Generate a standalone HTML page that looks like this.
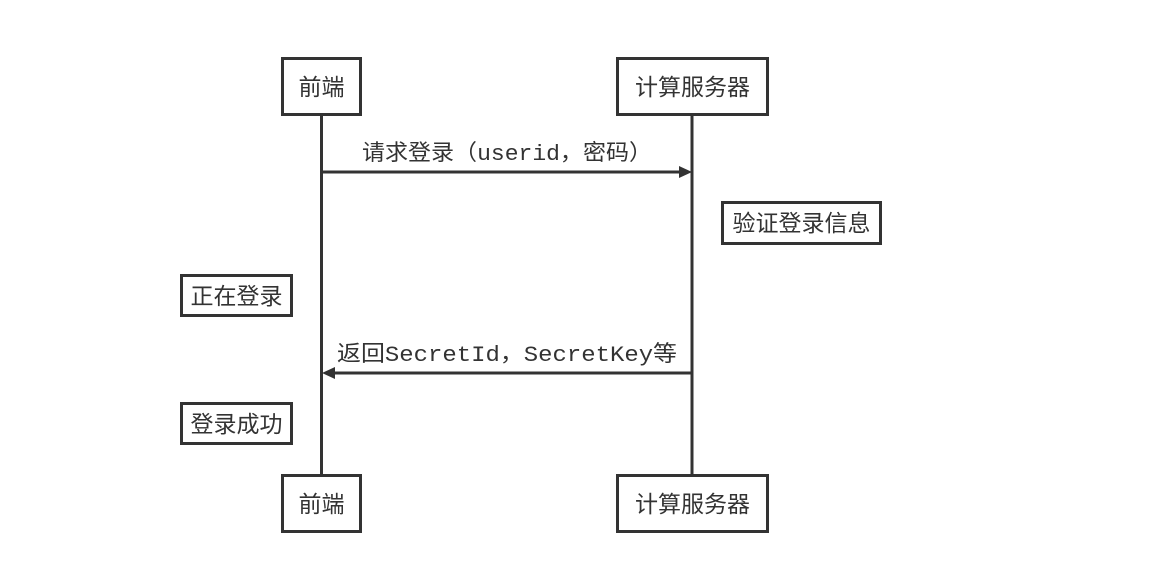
<!DOCTYPE html>
<html><head><meta charset="utf-8"><style>
html,body{margin:0;padding:0;background:#fff;}
svg{display:block;}
text{font-family:"Liberation Mono","Noto Sans CJK SC",monospace;fill:#333;}
.c{font-family:"Liberation Sans","Noto Sans CJK SC",sans-serif;font-size:23px;}
</style></head><body>
<svg width="1159" height="571" viewBox="0 0 1159 571" xmlns="http://www.w3.org/2000/svg">
<g stroke="#333" stroke-width="3" fill="none">
<line x1="321.5" y1="115" x2="321.5" y2="475"/>
<line x1="692" y1="115" x2="692" y2="475"/>
<rect x="282.5" y="58.5" width="78" height="56" fill="#fff"/>
<rect x="617.5" y="58.5" width="150" height="56" fill="#fff"/>
<rect x="282.5" y="475.5" width="78" height="56" fill="#fff"/>
<rect x="617.5" y="475.5" width="150" height="56" fill="#fff"/>
<rect x="722.5" y="202.5" width="158" height="41"/>
<rect x="181.5" y="275.5" width="110" height="40"/>
<rect x="181.5" y="403.5" width="110" height="40"/>
<line x1="321.5" y1="172" x2="680" y2="172"/>
<line x1="334" y1="373" x2="692" y2="373"/>
</g>
<polygon points="679,166 692,172 679,178" fill="#333"/>
<polygon points="335,367 322,373 335,379" fill="#333"/>
<text class="c" x="321.5" y="95" text-anchor="middle">前端</text>
<text class="c" x="692.5" y="95" text-anchor="middle">计算服务器</text>
<text class="c" x="321.5" y="512" text-anchor="middle">前端</text>
<text class="c" x="692.5" y="512" text-anchor="middle">计算服务器</text>
<text class="c" x="801.5" y="231" text-anchor="middle">验证登录信息</text>
<text class="c" x="236.5" y="304" text-anchor="middle">正在登录</text>
<text class="c" x="236.5" y="432" text-anchor="middle">登录成功</text>
<text x="507" y="160" text-anchor="middle" font-size="22" textLength="290" lengthAdjust="spacingAndGlyphs">请求登录（userid，密码）</text>
<text x="507" y="361" text-anchor="middle" font-size="22" textLength="340" lengthAdjust="spacingAndGlyphs">返回SecretId，SecretKey等</text>
</svg>
</body></html>
